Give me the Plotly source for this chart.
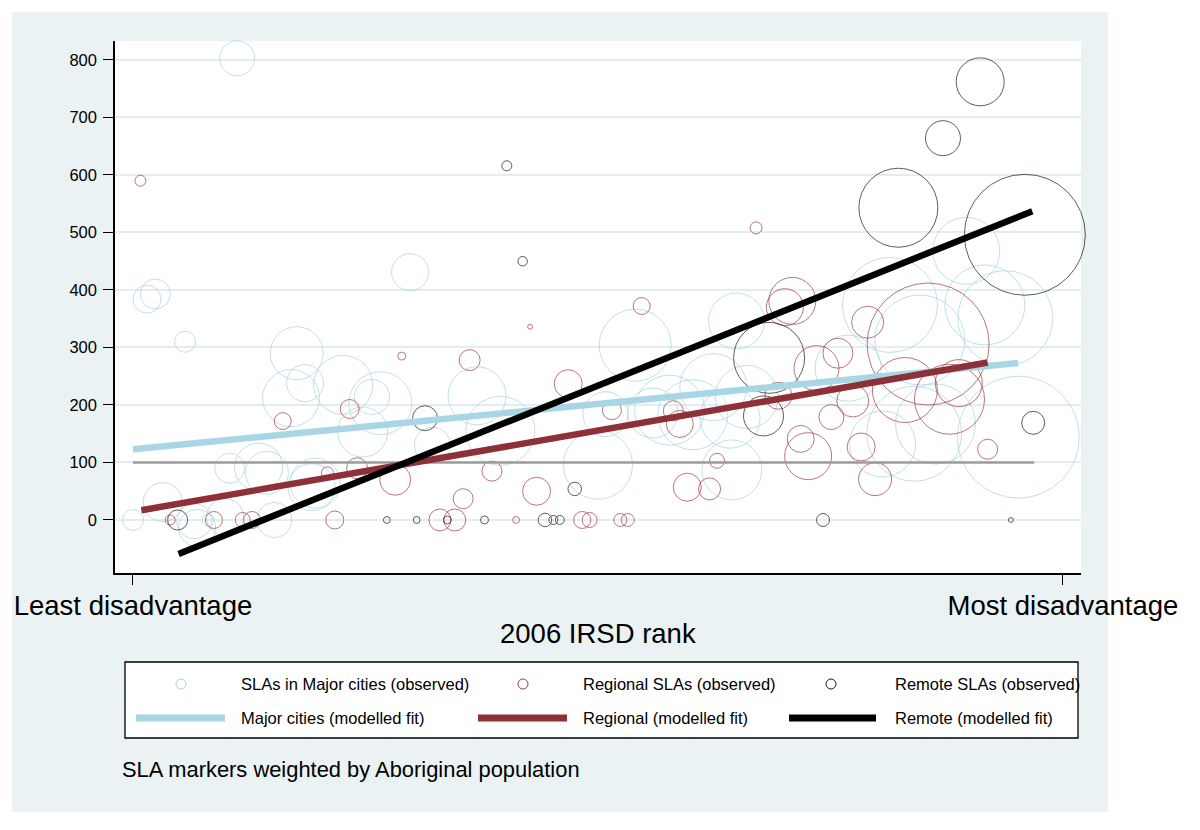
import plotly.graph_objects as go

# ---------------- data ----------------
# x: 2006 IRSD rank (0 = least disadvantage, 100 = most disadvantage)
# y: rate ; pop: Aboriginal population (marker weight)
major_rank = [11.2, 29.8, 2.4, 1.5, 5.6, 17.6, 18.5, 17.0, 22.6, 26.6, 25.7, 24.7,
              10.4, 13.5, 14.4, 19.2, 19.6, 32.2, 3.2, 0.0, 6.6, 6.9, 8.1, 9.9, 15.2,
              37.0, 39.5, 54.0, 50.0, 50.8, 55.9, 57.7, 60.2, 64.2, 64.4, 64.9, 62.4,
              66.0, 76.9, 81.4, 84.6, 91.6, 93.8, 89.6, 95.2, 84.0, 86.3, 80.6]
major_rate = [803, 431, 393, 384, 310, 290, 238, 212, 235, 203, 214, 153,
              90, 92, 82, 57, 64, 130, 31, 0, -2, -14, 0, 5, 0,
              216, 155, 304, 96, 184, 186, 191, 183, 177, 87, 346, 231,
              214, 264, 374, 313, 374, 351, 468, 144, 150, 167, 132]
major_pop = [612, 684, 450, 392, 220, 1404, 684, 1624, 1740, 1984, 612, 1250,
             450, 1152, 924, 1104, 1250, 648, 760, 220, 612, 684, 72, 684, 612,
             1682, 2380, 2592, 2380, 1012, 1250, 2450, 2450, 1800, 1800, 1568, 2244,
             1984, 2178, 4512, 4050, 3200, 4512, 2244, 7442, 4512, 3200, 2178]

regional_rank = [0.8, 28.9, 16.1, 23.3, 20.9, 24.1, 28.2, 4.0, 8.7, 11.8, 12.8, 21.7,
                 33.0, 34.6, 41.2, 48.3, 49.1, 52.4, 53.2, 36.2, 42.7, 54.7, 46.8, 51.5,
                 58.1, 58.8, 38.6, 43.4, 35.5, 59.6, 62.0, 62.8, 67.0, 70.9, 70.1, 79.0,
                 85.5, 73.5, 75.8, 83.0, 87.8, 88.8, 77.4, 75.1, 69.4, 71.8, 72.6, 78.3,
                 79.8, 91.9]
regional_rate = [590, 285, 172, 193, 82, 90, 70, 0, 0, 0, 0, 0,
                 0, 0, 0, 0, 0, 0, 0, 278, 336, 372, 237, 191,
                 190, 167, 85, 50, 37, 57, 54, 103, 508, 381, 370, 344,
                 306, 264, 290, 226, 210, 238, 207, 179, 216, 141, 111, 127,
                 71, 123]
regional_pop = [60, 32, 144, 180, 72, 220, 480, 50, 144, 112, 144, 162,
                242, 242, 24, 144, 112, 84, 84, 220, 12, 144, 392, 180,
                200, 364, 200, 392, 200, 392, 242, 112, 72, 1104, 684, 512,
                7442, 1012, 450, 2112, 2450, 1104, 512, 312, 364, 364, 1104, 392,
                544, 200]

remote_rank = [40.2, 41.9, 4.8, 27.3, 30.5, 33.8, 37.8, 44.3, 45.2, 45.9, 47.5,
               31.4, 68.4, 67.8, 74.2, 94.4, 96.8, 91.1, 87.1, 82.3, 95.9]
remote_rate = [616, 450, 0, 0, 0, 0, 0, 0, 0, 0, 54,
               177, 282, 181, 0, 0, 169, 762, 664, 543, 496]
remote_pop = [50, 45, 200, 24, 24, 32, 32, 91, 40, 40, 91,
              312, 2520, 800, 84, 12, 264, 1152, 612, 3120, 7320]

# modelled fits (end points) and reference line
fit_major_rank = [0.0, 95.2]
fit_major_rate = [123, 273]
fit_regional_rank = [0.9, 91.9]
fit_regional_rate = [17, 274]
fit_remote_rank = [4.9, 96.7]
fit_remote_rate = [-59, 537]
ref_rank = [0.0, 96.9]
ref_rate = [100, 100]

x_tickvals = [0, 100]
x_ticktext = ["Least disadvantage", "Most disadvantage"]
y_tickvals = [0, 100, 200, 300, 400, 500, 600, 700, 800]

x_title = "2006 IRSD rank"
legend_labels = ["SLAs in Major cities (observed)", "Regional SLAs (observed)",
                 "Remote SLAs (observed)", "Major cities (modelled fit)",
                 "Regional (modelled fit)", "Remote (modelled fit)"]
note = "SLA markers weighted by Aboriginal population"

# ---------------- styling ----------------
FONT = "Liberation Sans, Arial, Helvetica, sans-serif"
LB_LINE = "rgb(168,214,228)"
LB_MARK = "rgb(168,210,222)"
RED_LINE = "rgb(142,48,56)"
RED_MARK = "rgb(158,58,66)"
BLK_LINE = "#000000"
BLK_MARK = "#1a1a1a"
BG = "#EAF2F3"
GRID = "#E4EDF0"

W, H = 1200, 830
ML, MR, MT, MB = 115, 119, 41, 257
PW, PH = W - ML - MR, H - MT - MB


def pxx(p):
    return (p - ML) / PW


def pxy(p):
    return (H - MB - p) / PH


fig = go.Figure()


def bubbles(x, y, pop, color):
    fig.add_trace(go.Scatter(
        x=x, y=y, mode="markers", cliponaxis=False,
        marker=dict(symbol="circle-open", size=pop, sizemode="area", sizeref=1,
                    color=color, line=dict(width=1, color=color)),
        hoverinfo="skip", showlegend=False))


bubbles(major_rank, major_rate, major_pop, LB_MARK)
bubbles(regional_rank, regional_rate, regional_pop, RED_MARK)
bubbles(remote_rank, remote_rate, remote_pop, BLK_MARK)

fig.add_trace(go.Scatter(x=ref_rank, y=ref_rate, mode="lines",
                         line=dict(color="#9c9c9c", width=2.6),
                         hoverinfo="skip", showlegend=False))
for xr, yr, col in [(fit_major_rank, fit_major_rate, LB_LINE),
                    (fit_regional_rank, fit_regional_rate, RED_LINE),
                    (fit_remote_rank, fit_remote_rate, BLK_LINE)]:
    fig.add_trace(go.Scatter(x=xr, y=yr, mode="lines",
                             line=dict(color=col, width=6.5),
                             hoverinfo="skip", showlegend=False))

shapes = [
    # outer graph region
    dict(type="rect", xref="paper", yref="paper", layer="below",
         x0=pxx(12), x1=pxx(1108), y0=pxy(812), y1=pxy(12),
         fillcolor=BG, line=dict(width=0)),
    # plot region
    dict(type="rect", xref="paper", yref="paper", layer="below",
         x0=0, x1=1, y0=0, y1=1, fillcolor="white", line=dict(width=0)),
    # legend box
    dict(type="rect", xref="paper", yref="paper",
         x0=pxx(125), x1=pxx(1078), y0=pxy(738), y1=pxy(662),
         fillcolor="white", line=dict(color="black", width=1.3)),
]

annotations = []
row1_y, row2_y = 684, 718
sym_x = [181, 523, 831]
line_x = [(136, 225), (478, 567), (789, 876)]
text_x = [239, 581, 893]
mark_cols = [LB_MARK, RED_MARK, BLK_MARK]
line_cols = [LB_LINE, RED_LINE, BLK_LINE]
for i in range(3):
    shapes.append(dict(type="circle", xref="paper", yref="paper",
                       x0=pxx(sym_x[i] - 5), x1=pxx(sym_x[i] + 5),
                       y0=pxy(row1_y + 5), y1=pxy(row1_y - 5),
                       line=dict(color=mark_cols[i], width=1)))
    shapes.append(dict(type="line", xref="paper", yref="paper",
                       x0=pxx(line_x[i][0]), x1=pxx(line_x[i][1]),
                       y0=pxy(row2_y), y1=pxy(row2_y),
                       line=dict(color=line_cols[i], width=7)))
    annotations.append(dict(xref="paper", yref="paper", x=pxx(text_x[i]), y=pxy(row1_y),
                            text=legend_labels[i], showarrow=False, xanchor="left",
                            yanchor="middle", font=dict(family=FONT, size=16.5, color="black")))
    annotations.append(dict(xref="paper", yref="paper", x=pxx(text_x[i]), y=pxy(row2_y),
                            text=legend_labels[i + 3], showarrow=False, xanchor="left",
                            yanchor="middle", font=dict(family=FONT, size=16.5, color="black")))

annotations.append(dict(xref="paper", yref="paper", x=pxx(120), y=pxy(769), text=note,
                        showarrow=False, xanchor="left", yanchor="middle",
                        font=dict(family=FONT, size=21.9, color="black")))
annotations.append(dict(xref="paper", yref="paper", x=pxx(598), y=pxy(633), text=x_title,
                        showarrow=False, xanchor="center", yanchor="middle",
                        font=dict(family=FONT, size=27.5, color="black")))

fig.update_layout(
    width=W, height=H,
    margin=dict(l=ML, r=MR, t=MT, b=MB, pad=0),
    paper_bgcolor="white", plot_bgcolor="white",
    font=dict(family=FONT, color="black"),
    showlegend=False,
    shapes=shapes, annotations=annotations,
    xaxis=dict(range=[-1.935, 101.94], tickvals=x_tickvals, ticktext=x_ticktext,
               ticks="outside", ticklen=10, tickwidth=1.3, tickcolor="black",
               showline=True, linecolor="black", linewidth=1.5,
               showgrid=False, zeroline=False, ticklabelstandoff=-3,
               tickfont=dict(family=FONT, size=27.5, color="black")),
    yaxis=dict(range=[-92.2, 833], tickvals=y_tickvals,
               ticks="outside", ticklen=10, tickwidth=1.3, tickcolor="black",
               showline=True, linecolor="black", linewidth=1.5,
               showgrid=True, gridcolor=GRID, gridwidth=2, zeroline=False,
               ticklabelstandoff=3,
               tickfont=dict(family=FONT, size=16.5, color="black")),
)

fig.write_html("out.html", config={"displayModeBar": False},
               post_script="document.body.style.margin='0px';document.body.style.padding='0px';")
